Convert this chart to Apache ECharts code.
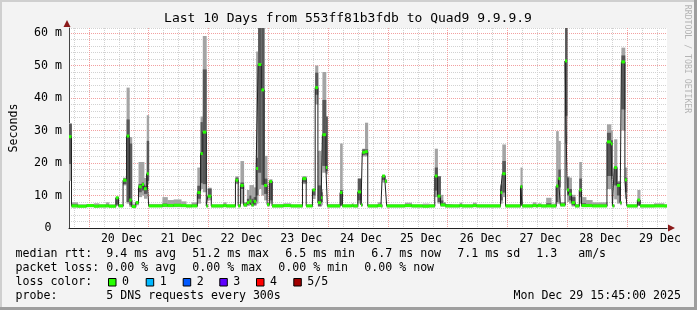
<!DOCTYPE html>
<html><head><meta charset="utf-8">
<script src="https://cdn.jsdelivr.net/npm/echarts@6/dist/echarts.min.js"></script>
<style>html,body{margin:0;padding:0;background:#f3f3f3}#c{width:697px;height:310px}</style>
</head><body><div id="c"></div>
<script>
// ---- data (hours since left edge of plot; each step lasts until the next start) ----
const segStart = [0,1,3.5,7,10,12,14.8,16,18.8,19.9,21.7,23.1,24.2,25.2,26.8,27.9,29.2,30.1,31.2,32,
  37.5,39.5,42,45,47,49.2,51.5,52.8,53.7,55.1,55.7,57.1,61.9,63.1,66.8,67.9,68.8,70.1,71.4,72.4,
  73.2,74.1,75.1,75.9,77.2,78.3,79.5,80.4,81.5,86,89,93.7,95.2,97.7,98.8,99.9,101.2,101.7,103.1,103.7,
  108.8,109.7,113.5,114.1,115.9,117.2,117.7,118.8,119.9,123.9,125.2,125.7,126.8,127.5,134.8,137.5,142,144.5,146.8,147.9,
  149.1,150.1,151,156.8,157.7,162.1,163.5,173.2,173.9,175.2,181.2,181.9,186.1,187.5,188.1,189.5,191.5,193.5,195.5,196.4,
  197.2,199.1,199.9,200.7,201.7,203.1,204.8,205.7,207.5,210,215.9,217.5,218.1,218.8,219.9,221.2,221.7,223.1,223.9,228.1,
  229.2,234.8,238.8];
const endHour = 240;
const medianMs = [28.1,6.8,6.7,6.9,6.7,6.8,6.8,6.7,9.3,6.8,14.7,28.3,8.6,6.6,7.8,12.7,13.4,12.1,16.7,6.8,
  7.0,6.9,7.0,6.9,6.8,6.8,10.9,22.9,29.5,6.8,9.8,6.8,6.9,6.8,14.7,6.8,13.1,7.1,7.8,8.3,
  7.1,8.2,18.3,50.3,42.5,13.1,7.2,14.3,6.8,6.9,6.8,15.2,6.8,11.7,43.2,7.8,9.3,28.7,18.6,6.8,
  10.9,6.8,6.9,6.8,11.1,7.1,23.3,23.5,6.8,6.9,6.8,16.0,14.4,6.8,6.9,6.8,6.7,6.8,16.0,9.8,
  7.1,7.1,6.8,6.9,6.8,6.9,6.8,10.9,16.7,6.8,12.7,6.8,6.9,6.8,6.9,6.8,6.8,6.8,12.9,15.2,
  7.1,51.4,11.7,10.4,7.8,6.8,11.7,6.9,6.9,6.8,26.5,25.9,6.8,18.6,13.1,7.8,51.1,14.8,6.8,8.6,
  6.8,6.8,6.8];
const pingMin = [14.5,6.3,6.3,6.4,6.3,6.3,6.4,6.3,6.8,6.4,13.1,7.5,6.5,6.2,7.0,9.5,10.0,9.0,13.5,6.4,
  6.4,6.4,6.4,6.4,6.3,6.4,7.5,12.0,11.0,6.4,8.5,6.3,6.4,6.3,13.5,6.4,7.5,6.5,6.8,7.0,
  6.6,6.8,7.5,12.0,10.0,8.5,6.6,7.5,6.3,6.4,6.3,13.5,6.4,8.9,38.0,6.5,7.0,17.0,16.5,6.3,
  6.8,6.4,6.4,6.3,7.5,6.6,22.0,22.0,6.3,6.4,6.3,14.0,13.8,6.3,6.4,6.3,6.3,6.3,9.5,7.5,
  6.6,6.6,6.3,6.4,6.3,6.4,6.3,7.5,9.5,6.3,6.8,6.3,6.4,6.3,6.4,6.3,6.4,6.3,7.5,7.5,
  6.6,26.0,8.0,7.5,6.6,6.3,7.5,6.4,6.4,6.4,12.0,15.0,6.4,8.8,7.5,7.0,30.0,9.0,6.3,6.8,
  6.3,6.4,6.3];
const pingLo = [19.7,6.6,6.5,6.6,6.5,6.6,6.6,6.5,7.2,6.6,13.5,8.0,7.0,6.4,7.4,11.0,11.5,10.5,14.5,6.6,
  6.7,6.6,6.7,6.6,6.6,6.6,9.0,13.8,13.5,6.6,9.4,6.6,6.6,6.6,14.0,6.6,12.0,6.8,7.2,7.5,
  7.0,7.2,10.0,17.0,13.3,10.5,6.9,8.5,6.6,6.6,6.6,14.0,6.6,10.0,41.0,6.8,8.0,19.1,17.5,6.6,
  7.0,6.6,6.6,6.6,8.5,6.8,22.5,22.6,6.6,6.6,6.6,14.8,14.0,6.6,6.6,6.6,6.5,6.6,11.5,8.0,
  6.8,6.8,6.6,6.6,6.6,6.6,6.6,8.5,10.9,6.6,7.0,6.6,6.6,6.6,6.6,6.6,6.6,6.6,8.0,12.5,
  6.9,34.5,10.0,8.5,7.0,6.6,9.5,6.6,6.6,6.6,16.0,16.0,6.6,13.1,10.0,7.5,36.5,11.0,6.6,7.0,
  6.6,6.6,6.6];
const pingHi = [32.0,7.3,7.0,7.1,7.1,7.0,7.2,7.0,9.3,7.0,15.2,33.4,26.0,7.0,8.0,13.5,14.0,13.0,26.8,7.0,
  7.5,7.3,7.4,7.2,7.0,7.2,13.0,32.6,48.8,7.0,12.1,7.0,7.3,7.0,15.5,7.0,14.0,7.5,9.0,10.0,
  9.0,9.5,21.6,63,63,15.2,7.5,14.5,7.0,7.2,7.0,15.6,7.0,11.9,47.8,13.1,11.0,39.4,34.3,7.0,
  11.7,7.0,7.2,7.0,15.2,7.4,24.2,24.2,7.0,7.3,7.0,16.2,14.8,7.0,7.3,7.0,7.0,7.0,18.6,15.9,
  8.5,7.6,7.0,7.3,7.0,7.3,7.0,13.1,20.6,7.0,13.1,7.0,7.3,7.0,7.2,7.0,7.6,7.0,12.9,18.0,
  7.5,63,15.5,12.0,9.5,7.0,15.2,7.6,7.4,7.2,29.3,27.0,7.0,18.9,14.0,8.0,53.1,15.5,7.0,8.6,
  7.0,7.2,7.0];
const pingMax = [32.3,7.9,7.3,7.4,7.6,7.3,7.9,7.3,9.6,7.3,15.5,43.2,28.0,7.5,8.3,20.3,20.3,15.4,34.7,7.4,
  9.5,8.6,8.8,8.2,7.3,7.9,18.6,34.3,59.1,7.3,12.4,7.3,7.9,7.3,15.9,7.3,20.6,8.0,11.7,13.2,
  13.2,12.5,54.3,63,63,22.2,7.8,15.0,7.4,7.6,7.3,16.0,7.3,12.0,50.0,23.7,12.0,48.0,34.3,7.4,
  26.0,7.3,7.6,7.3,15.2,7.6,24.4,32.4,7.3,7.9,7.3,16.3,15.0,7.3,7.8,7.3,7.5,7.3,24.4,15.9,
  10.2,8.0,7.3,7.8,7.3,7.8,7.3,13.5,25.7,7.3,18.6,7.3,7.9,7.3,7.6,7.3,9.3,7.5,29.8,26.8,
  8.0,63,15.9,15.5,10.2,7.4,20.3,9.5,8.6,7.9,31.9,30.0,7.3,27.3,14.5,8.2,55.5,18.6,7.3,11.7,
  7.3,7.6,7.3];
const lossPerStep = medianMs.map(() => 0); // 0 lost pings in every step
const dayLabels = ['20 Dec','21 Dec','22 Dec','23 Dec','24 Dec','25 Dec','26 Dec','27 Dec','28 Dec','29 Dec'];
const dayLabelHours = [20,44,68,92,116,140,164,188,212,236];
const lossNames = ['0','1','2','3','4','5/5'];
const lossColors = ['#26ff00','#00b8ff','#0059ff','#5e00ff','#ff0000','#a10000'];
const medianStats = ['9.4 ms avg','51.2 ms max','6.5 ms min','6.7 ms now','7.1 ms sd','1.3   am/s'];
const lossStats = ['0.00 % avg','0.00 % max','0.00 % min','0.00 % now'];
const titleText = 'Last 10 Days from 553ff81b3fdb to Quad9 9.9.9.9';
const probeText = '5 DNS requests every 300s';
const dateText = 'Mon Dec 29 15:45:00 2025';

// ---- build ----
const FONT = 'DejaVu Sans Mono';
const FS = 11.6;
const segEnd = segStart.map((s,i)=> i+1<segStart.length ? segStart[i+1] : endHour);
const medLine = segStart.map((s,i)=>[s, medianMs[i]]).concat([[endHour, medianMs[medianMs.length-1]]]);
const smokeData = segStart.map((s,i)=>[s, segEnd[i], pingMin[i], pingLo[i], pingHi[i], pingMax[i]]);
const greenData = segStart.map((s,i)=>[s, segEnd[i], medianMs[i], lossPerStep[i]]);

const chart = echarts.init(document.getElementById('c'), null, {renderer:'canvas'});
const minorG = '#d2d2d2', majorG = '#f2a0a0', T = 'rgba(0,0,0,0)';

function txt(s, x, y, extra){ return {type:'text', silent:true, style:Object.assign({text:s, x:x, y:y, font:FS+'px "'+FONT+'"', fill:'#000', verticalAlign:'middle', align:'left'}, extra||{})}; }
const g = [];
g.push({type:'rect', shape:{x:0,y:0,width:697,height:2}, style:{fill:'#cfcfcf'}, silent:true});
g.push({type:'rect', shape:{x:0,y:0,width:2,height:310}, style:{fill:'#cfcfcf'}, silent:true});
g.push({type:'rect', shape:{x:0,y:307,width:697,height:3}, style:{fill:'#9e9e9e'}, silent:true});
g.push({type:'rect', shape:{x:694,y:0,width:3,height:310}, style:{fill:'#9e9e9e'}, silent:true});
g.push(txt(titleText, 348, 19, {align:'center', font:'13px "'+FONT+'"'}));
g.push({type:'text', silent:true, x:687, y:59, rotation:-Math.PI/2, style:{text:'RRDTOOL / TOBI OETIKER', x:0, y:0, align:'center', verticalAlign:'middle', font:'8.2px "'+FONT+'"', fill:'#b4b4b4'}});
g.push({type:'polygon', silent:true, shape:{points:[[67,20],[63.5,27],[70.5,27]]}, style:{fill:'#8b1a1a'}});
g.push({type:'polygon', silent:true, shape:{points:[[675,228],[668,224.5],[668,231.5]]}, style:{fill:'#8b1a1a'}});
// legend
const l1x = [106.3,192.3,285.3,371.3,457.3,536.3];
g.push(txt('median rtt:', 15.5, 254));
medianStats.forEach((s,i)=>g.push(txt(s, l1x[i], 254)));
const l2x = [106.3,192.3,278.3,364.3];
g.push(txt('packet loss:', 15.5, 268));
lossStats.forEach((s,i)=>g.push(txt(s, l2x[i], 268)));
g.push(txt('loss color:', 15.5, 282));
const boxX = [108,145.7,182.7,219.3,256,293.3];
lossNames.forEach((s,i)=>{
  g.push({type:'rect', silent:true, shape:{x:boxX[i]+0.5, y:278.5, width:7.5, height:7.5}, style:{fill:lossColors[i], stroke:'#000', lineWidth:1}});
  g.push(txt(s, boxX[i]+14, 282));
});
g.push(txt('probe:', 15.5, 296));
g.push(txt(probeText, 106.3, 296));
g.push(txt(dateText, 681, 296, {align:'right'}));

chart.setOption({
  animation:false,
  backgroundColor:'#f3f3f3',
  textStyle:{fontFamily:FONT},
  grid:{left:67, right:30, top:28, bottom:82, show:true, backgroundColor:'#ffffff', borderWidth:0},
  xAxis:{type:'value', min:0, max:endHour, interval:2,
    axisLine:{show:true, onZero:false, lineStyle:{color:'#222', width:1}},
    axisTick:{show:false},
    axisLabel:{show:true, margin:5, color:'#000', fontFamily:FONT, fontSize:FS, padding:[0,0,0,6],
      formatter:v=>{const k=dayLabelHours.indexOf(v); return k>=0?dayLabels[k]:'';}},
    splitLine:{show:true, lineStyle:{type:[1,1], width:1,
      color:[T,minorG,T,T,majorG,T,T,minorG,T,T,minorG,T]}}},
  yAxis:{type:'value', min:0, max:61.54, interval:2,
    name:'Seconds', nameLocation:'middle', nameGap:49, nameRotate:90,
    nameTextStyle:{color:'#000', fontFamily:FONT, fontSize:FS},
    axisLine:{show:true, lineStyle:{color:'#444', width:1}},
    axisTick:{show:false},
    axisLabel:{margin:21, align:'center', color:'#000', fontFamily:FONT, fontSize:FS,
      formatter:v=> v===0 ? '0' : (Math.abs(v%10)<1e-9 ? (v+' m') : '')},
    splitLine:{show:true, lineStyle:{type:[1,1], width:1, color:[majorG,minorG,minorG,minorG,minorG]}}},
  graphic:g,
  series:[
    {type:'custom', name:'smoke', silent:true, z:2, clip:true, data:smokeData, encode:{x:[0,1], y:[2,3,4,5]},
      renderItem:(params, api)=>{
        const x0 = api.coord([api.value(0), 0])[0], x1 = api.coord([api.value(1), 0])[0];
        const y = k => api.coord([0, api.value(k)])[1];
        const yMin=y(2), yLo=y(3), yHi=y(4), yMax=y(5), w = x1-x0+0.4;
        return {type:'group', children:[
          {type:'rect', shape:{x:x0, y:yMax, width:w, height:yMin-yMax}, style:{fill:'#a4a4a4'}},
          {type:'rect', shape:{x:x0, y:yHi, width:w, height:yLo-yHi}, style:{fill:'#585858'}}
        ]};
      }},
    {type:'line', name:'median', step:'end', showSymbol:false, silent:true, data:medLine,
      lineStyle:{color:'#202020', width:1}, z:4},
    {type:'custom', name:'loss', silent:true, z:5, clip:true, data:greenData, encode:{x:[0,1], y:2},
      renderItem:(params, api)=>{
        const a = api.coord([api.value(0), api.value(2)]);
        const b = api.coord([api.value(1), api.value(2)]);
        return {type:'rect', shape:{x:a[0], y:a[1]-1.5, width:b[0]-a[0], height:3}, style:{fill:lossColors[api.value(3)]}};
      }}
  ]
});
</script></body></html>
